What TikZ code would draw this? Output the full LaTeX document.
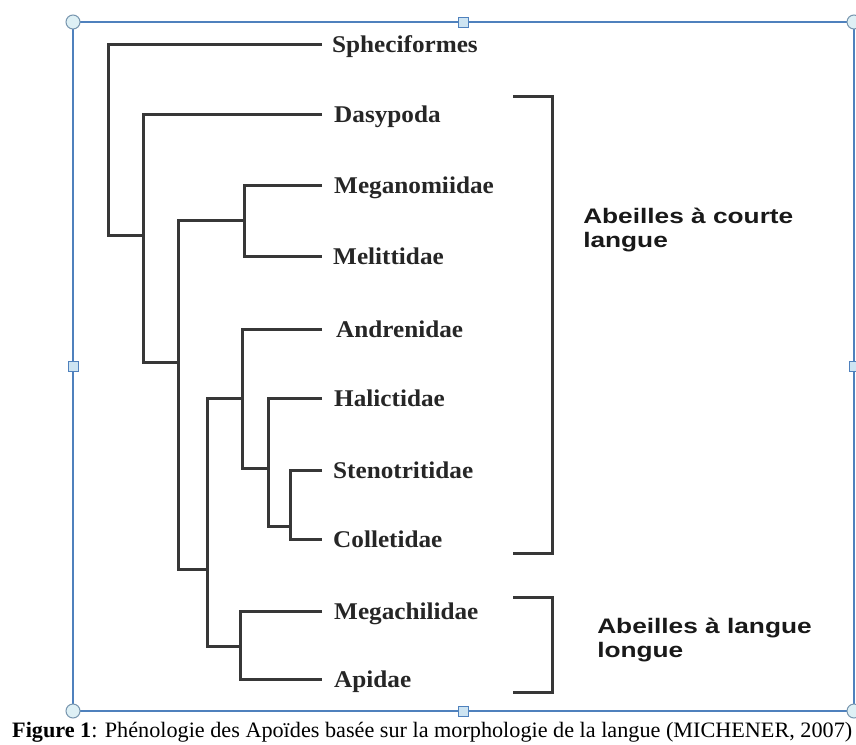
\documentclass[tikz,border=0pt]{standalone}
\usepackage{fontspec}
\setmainfont{Liberation Serif}
\newfontfamily\arialfont{Liberation Sans}
\definecolor{framecol}{RGB}{79,129,189}
\definecolor{handlefill}{RGB}{222,240,245}
\definecolor{handledraw}{RGB}{120,150,175}
\definecolor{sqfill}{RGB}{205,228,242}
\definecolor{treecol}{RGB}{55,55,55}
\tikzset{
  branch/.style={draw=treecol, line width=3pt, line join=miter},
  bracketline/.style={draw=treecol, line width=3pt, line join=miter},
  taxon/.style={anchor=base west, inner sep=0pt, font=\fontsize{24}{28}\selectfont\bfseries, xscale=1.05, text=black!85},
  grouplabel/.style={anchor=north west, inner sep=0pt, align=left, font=\arialfont\bfseries\fontsize{21}{24}\selectfont, xscale=1.25, text=black!90},
  cornerhandle/.style={circle, draw=handledraw, fill=handlefill, line width=1pt, minimum size=14pt, inner sep=0pt},
  midhandle/.style={rectangle, draw=framecol, fill=sqfill, line width=1pt, minimum size=10pt, inner sep=0pt}
}
\begin{document}
\begin{tikzpicture}[x=1pt,y=-1pt]
\useasboundingbox (0,0) rectangle (856,744);
\clip (0,0) rectangle (856,744);
\fill[white] (0,0) rectangle (856,744);
% frame
\coordinate (fTL) at (73,22);
\coordinate (fBR) at (854,711);
\draw[framecol, line width=1.3pt] (fTL) rectangle (fBR);
\node[cornerhandle] (h1) at (73,22) {};
\node[cornerhandle] (h2) at (854,22) {};
\node[cornerhandle] (h3) at (73,711) {};
\node[cornerhandle] (h4) at (854,711) {};
\node[midhandle] (m1) at (463.5,22) {};
\node[midhandle] (m2) at (463.5,711) {};
\node[midhandle] (m3) at (73,366.5) {};
\node[midhandle] (m4) at (854,366.5) {};
% leaf ends
\coordinate (lSph) at (322,44);
\coordinate (lDas) at (322,114);
\coordinate (lMeg) at (322,185);
\coordinate (lMel) at (322,256);
\coordinate (lAnd) at (322,329);
\coordinate (lHal) at (322,398);
\coordinate (lSte) at (322,470);
\coordinate (lCol) at (322,539);
\coordinate (lMgc) at (322,611);
\coordinate (lApi) at (322,679);
% internal nodes (x of vertical, y of join with parent)
\coordinate (r)  at (108,235);
\coordinate (n1) at (143,235);
\coordinate (n2) at (178,362);
\coordinate (n3) at (244,220);
\coordinate (n4) at (207,569);
\coordinate (n5) at (242,398);
\coordinate (n6) at (268,468);
\coordinate (n7) at (290,526);
\coordinate (n8) at (240,646);
% branches
\draw[branch] (lSph) -| (r) -- (n1);
\draw[branch] (lDas) -| (n1) |- (n2);
\draw[branch] (n3) -| (n2) |- (n4);
\draw[branch] (lMeg) -| (n3) |- (lMel);
\draw[branch] (n5) -| (n4) |- (n8);
\draw[branch] (lAnd) -| (n5) |- (n6);
\draw[branch] (lHal) -| (n6) |- (n7);
\draw[branch] (lSte) -| (n7) |- (lCol);
\draw[branch] (lMgc) -| (n8) |- (lApi);
% labels
\node[taxon] (tSph) at (332,52) {Spheciformes};
\node[taxon] (tDas) at (334,122) {Dasypoda};
\node[taxon] (tMeg) at (334,193) {Meganomiidae};
\node[taxon] (tMel) at (333,264) {Melittidae};
\node[taxon] (tAnd) at (336,337) {Andrenidae};
\node[taxon] (tHal) at (334,406) {Halictidae};
\node[taxon] (tSte) at (333,478) {Stenotritidae};
\node[taxon] (tCol) at (333,547) {Colletidae};
\node[taxon] (tMgc) at (334,619) {Megachilidae};
\node[taxon] (tApi) at (334,687) {Apidae};
% brackets
\coordinate (b1a) at (513,96);
\coordinate (b1b) at (552,96);
\coordinate (b1c) at (552,553);
\coordinate (b1d) at (513,553);
\draw[bracketline] (b1a) -- (b1b) -- (b1c) -- (b1d);
\coordinate (b2a) at (513,597);
\coordinate (b2b) at (552,597);
\coordinate (b2c) at (552,692);
\coordinate (b2d) at (513,692);
\draw[bracketline] (b2a) -- (b2b) -- (b2c) -- (b2d);
\node[grouplabel] (gShort) at (583,207.5) {Abeilles à courte\\langue};
\node[grouplabel] (gLong) at (597,617.5) {Abeilles à langue\\longue};
% caption
\node[anchor=base west, inner sep=0pt, font=\fontsize{22}{26}\selectfont] (cap) at (12,737)
  {\resizebox{840pt}{\height}{\textbf{Figure 1}: Phénologie des Apoïdes basée sur la morphologie de la langue (MICHENER, 2007)}};
\end{tikzpicture}
\end{document}
